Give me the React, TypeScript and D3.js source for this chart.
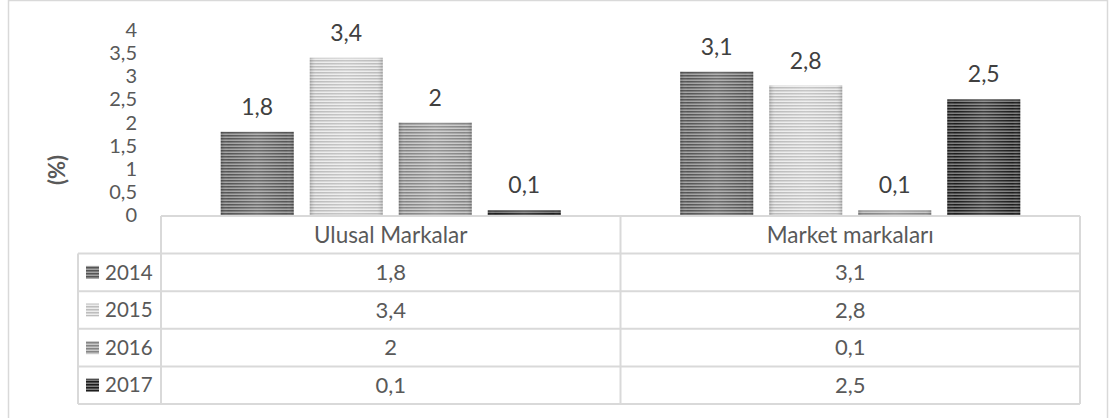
import React from "react";
import * as d3 from "d3";

const categories = ["Ulusal Markalar", "Market markaları"];
const series = ["2014", "2015", "2016", "2017"];
const values2014 = [1.8, 3.1];
const values2015 = [3.4, 2.8];
const values2016 = [2, 0.1];
const values2017 = [0.1, 2.5];
const seriesValues = [values2014, values2015, values2016, values2017];
const yTicks = [0, 0.5, 1, 1.5, 2, 2.5, 3, 3.5, 4];
const yLabel = "(%)";

const stripeColors = [
  { base: "#a3a3a3", line: "#555555" },
  { base: "#ececec", line: "#bdbdbd" },
  { base: "#c8c8c8", line: "#858585" },
  { base: "#7e7e7e", line: "#1c1c1c" },
];

const fmt = (v: number) => String(v).replace(".", ",");

export default function App() {
  const W = 1109;
  const H = 418;
  const plotLeft = 161;
  const plotRight = 1080;
  const x0 = d3.scaleBand<string>().domain(categories).range([plotLeft, plotRight]).padding(0);
  const x1 = d3
    .scaleBand<string>()
    .domain(series)
    .range([0, x0.bandwidth()])
    .paddingInner(16 / 89)
    .paddingOuter(0.671);
  const y = d3.scaleLinear().domain([0, 4]).range([215, 30]);

  const textColor = "#595959";
  const gridColor = "#d9d9d9";
  const font = "Lato, 'Open Sans', sans-serif";

  const tableTop = 216;
  const rowH = 37.6;
  const legendLeft = 78;

  return (
    <svg
      width={W}
      height={H}
      style={{ position: "absolute", left: 0, top: 0, background: "#fff" }}
      fontFamily={font}
    >
      <defs>
        {stripeColors.map((c, i) => (
          <pattern key={i} id={`stripe${i}`} width={6} height={3} patternUnits="userSpaceOnUse">
            <rect width={6} height={3} fill={c.base} />
            <rect width={6} height={1.5} fill={c.line} />
          </pattern>
        ))}
        <linearGradient id="shade" x1="0" x2="1" y1="0" y2="0">
          <stop offset="0" stopColor="#000" stopOpacity={0.18} />
          <stop offset="0.1" stopColor="#fff" stopOpacity={0} />
          <stop offset="0.5" stopColor="#fff" stopOpacity={0.15} />
          <stop offset="0.9" stopColor="#fff" stopOpacity={0} />
          <stop offset="1" stopColor="#000" stopOpacity={0.18} />
        </linearGradient>
      </defs>

      <rect x={8.5} y={0.5} width={1099} height={H + 10} fill="#fff" stroke={gridColor} strokeWidth={1.5} />

      {/* y axis ticks */}
      {yTicks.map((t) => (
        <text
          key={t}
          x={137}
          y={y(t)}
          dy="0.35em"
          textAnchor="end"
          fontSize={20}
          fill={textColor}
        >
          {fmt(t)}
        </text>
      ))}
      <text
        transform={`translate(65,170) rotate(-90)`}
        textAnchor="middle"
        fontSize={22}
        fontWeight="bold"
        fill={textColor}
      >
        {yLabel}
      </text>

      {/* bars */}
      {categories.map((cat, ci) =>
        series.map((s, si) => {
          const v = seriesValues[si][ci];
          const bx = (x0(cat) ?? 0) + (x1(s) ?? 0);
          const by = y(v);
          const bh = y(0) - y(v);
          return (
            <g key={`${cat}-${s}`}>
              <rect x={bx} y={by} width={x1.bandwidth()} height={bh} fill={`url(#stripe${si})`} />
              <rect x={bx} y={by} width={x1.bandwidth()} height={bh} fill="url(#shade)" />
              <text
                x={bx + x1.bandwidth() / 2}
                y={by - 17}
                textAnchor="middle"
                fontSize={23}
                fill="#404040"
              >
                {fmt(v)}
              </text>
            </g>
          );
        })
      )}

      {/* table */}
      <line x1={plotLeft} x2={plotRight} y1={tableTop} y2={tableTop} stroke={gridColor} strokeWidth={2} />
      <line x1={legendLeft} x2={plotRight} y1={tableTop + rowH} y2={tableTop + rowH} stroke={gridColor} strokeWidth={2} />
      {series.map((s, i) => (
        <line
          key={s}
          x1={legendLeft}
          x2={plotRight}
          y1={tableTop + rowH * (i + 2)}
          y2={tableTop + rowH * (i + 2)}
          stroke={gridColor}
          strokeWidth={2}
        />
      ))}
      <line x1={legendLeft} x2={legendLeft} y1={tableTop + rowH} y2={tableTop + rowH * 5} stroke={gridColor} strokeWidth={2} />
      {[plotLeft, ...categories.map((c) => (x0(c) ?? 0) + x0.bandwidth())].map((xv, i) => (
        <line key={i} x1={xv} x2={xv} y1={tableTop} y2={tableTop + rowH * 5} stroke={gridColor} strokeWidth={2} />
      ))}

      {categories.map((c) => (
        <text
          key={c}
          x={(x0(c) ?? 0) + x0.bandwidth() / 2}
          y={tableTop + rowH / 2}
          dy="0.35em"
          textAnchor="middle"
          fontSize={22.5}
          fill={textColor}
        >
          {c}
        </text>
      ))}

      {series.map((s, si) => {
        const cy = tableTop + rowH * (si + 1) + rowH / 2;
        return (
          <g key={s}>
            <rect x={86} y={cy - 6.5} width={13} height={13} fill={`url(#stripe${si})`} />
            <text x={105} y={cy} dy="0.35em" fontSize={20.5} fill={textColor}>
              {s}
            </text>
            {categories.map((c, ci) => (
              <text
                key={c}
                x={(x0(c) ?? 0) + x0.bandwidth() / 2}
                y={cy}
                dy="0.35em"
                textAnchor="middle"
                fontSize={22}
                fill={textColor}
              >
                {fmt(seriesValues[si][ci])}
              </text>
            ))}
          </g>
        );
      })}
    </svg>
  );
}
